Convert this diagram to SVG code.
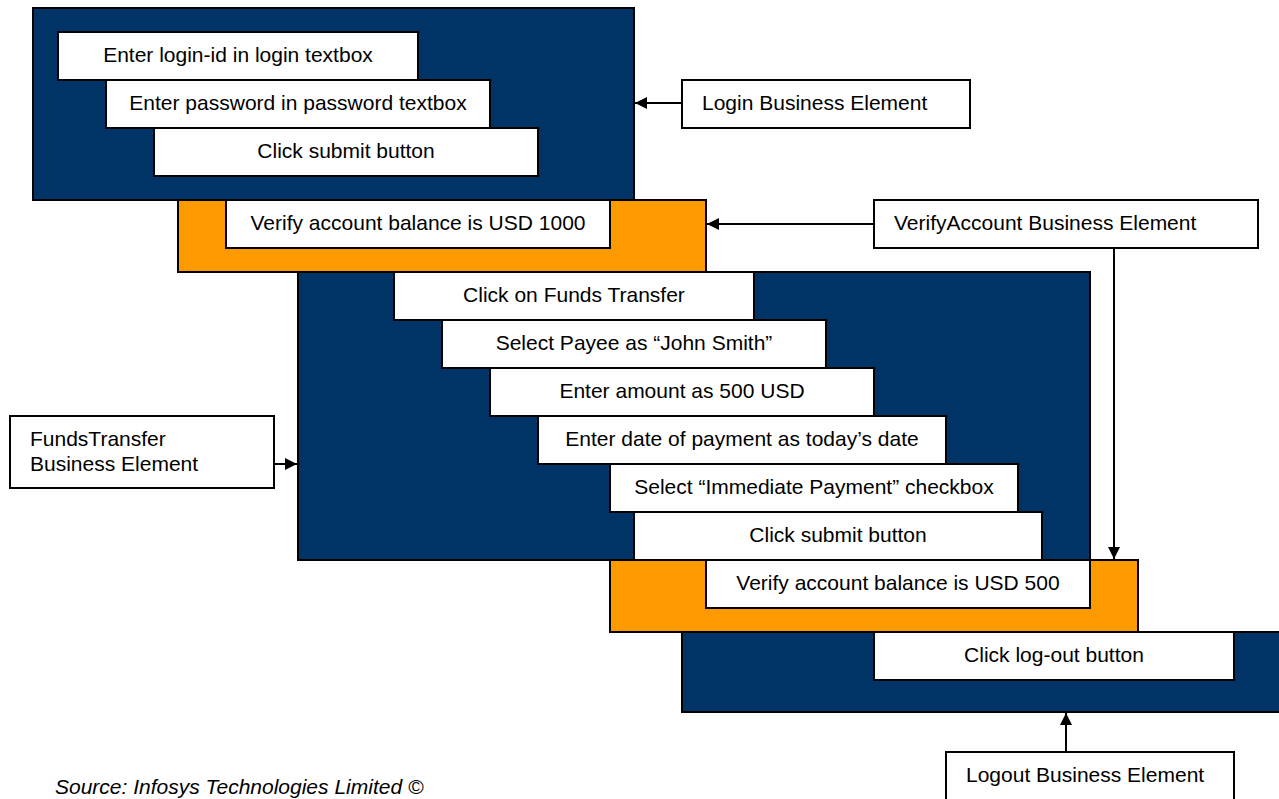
<svg xmlns="http://www.w3.org/2000/svg" width="1279" height="799" viewBox="0 0 1279 799">
<style>
.dark{fill:#003366;stroke:#000;stroke-width:2}
.orange{fill:#FF9900;stroke:#000;stroke-width:2}
.box{fill:#fff;stroke:#000;stroke-width:2}
.t{font-family:"Liberation Sans",Arial,sans-serif;font-size:21px;fill:#000;text-anchor:middle}
.tl{font-family:"Liberation Sans",Arial,sans-serif;font-size:21px;fill:#000}
.conn{stroke:#000;stroke-width:2;fill:none}
</style>
<defs>
<marker id="ah" viewBox="0 0 12 12" refX="12" refY="6" markerWidth="12" markerHeight="12" markerUnits="userSpaceOnUse" orient="auto">
<path d="M0,0 L12,6 L0,12 Z" fill="#000"/>
</marker>
</defs>
<rect width="1279" height="799" fill="#fff"/>
<g id="login-block">
<rect class="dark" x="33" y="8" width="601" height="192"/>
<rect class="box" x="58" y="32" width="360" height="48"/>
<text class="t" x="238" y="62">Enter login-id in login textbox</text>
<rect class="box" x="106" y="80" width="384" height="48"/>
<text class="t" x="298" y="110">Enter password in password textbox</text>
<rect class="box" x="154" y="128" width="384" height="48"/>
<text class="t" x="346" y="158">Click submit button</text>
</g>
<g id="verify-block-1">
<rect class="orange" x="178" y="200" width="528" height="72"/>
<rect class="box" x="226" y="200" width="384" height="48"/>
<text class="t" x="418" y="230">Verify account balance is USD 1000</text>
</g>
<g id="funds-block">
<rect class="dark" x="298" y="272" width="792" height="288"/>
<rect class="box" x="394" y="272" width="360" height="48"/>
<text class="t" x="574" y="302">Click on Funds Transfer</text>
<rect class="box" x="442" y="320" width="384" height="48"/>
<text class="t" x="634" y="350">Select Payee as “John Smith”</text>
<rect class="box" x="490" y="368" width="384" height="48"/>
<text class="t" x="682" y="398">Enter amount as 500 USD</text>
<rect class="box" x="538" y="416" width="408" height="48"/>
<text class="t" x="742" y="446">Enter date of payment as today’s date</text>
<rect class="box" x="610" y="464" width="408" height="48"/>
<text class="t" x="814" y="494">Select “Immediate Payment” checkbox</text>
<rect class="box" x="634" y="512" width="408" height="48"/>
<text class="t" x="838" y="542">Click submit button</text>
</g>
<g id="verify-block-2">
<rect class="orange" x="610" y="560" width="528" height="72"/>
<rect class="box" x="706" y="560" width="384" height="48"/>
<text class="t" x="898" y="590">Verify account balance is USD 500</text>
</g>
<g id="logout-block">
<rect class="dark" x="682" y="632" width="610" height="80"/>
<rect class="box" x="874" y="632" width="360" height="48"/>
<text class="t" x="1054" y="662">Click log-out button</text>
</g>
<g id="login-label">
<rect class="box" x="682" y="80" width="288" height="48"/>
<text class="tl" x="702" y="110">Login Business Element</text>
</g>
<g id="verifyaccount-label">
<rect class="box" x="874" y="200" width="384" height="48"/>
<text class="tl" x="894" y="230">VerifyAccount Business Element</text>
</g>
<g id="fundstransfer-label">
<rect class="box" x="10" y="416" width="264" height="72"/>
<text class="tl" x="30" y="446">FundsTransfer</text>
<text class="tl" x="30" y="471">Business Element</text>
</g>
<g id="logout-label">
<rect class="box" x="946" y="752" width="288" height="60"/>
<text class="tl" x="966" y="782">Logout Business Element</text>
</g>
<g id="connectors">
<line class="conn" x1="682" y1="103" x2="635" y2="103" marker-end="url(#ah)"/>
<line class="conn" x1="874" y1="224" x2="707" y2="224" marker-end="url(#ah)"/>
<line class="conn" x1="1114" y1="248" x2="1114" y2="559" marker-end="url(#ah)"/>
<line class="conn" x1="274" y1="464" x2="297" y2="464" marker-end="url(#ah)"/>
<line class="conn" x1="1066" y1="752" x2="1066" y2="713" marker-end="url(#ah)"/>
</g>
<text id="source" x="55" y="794" font-family="'Liberation Sans',Arial,sans-serif" font-size="21" font-style="italic" fill="#000">Source: Infosys Technologies Limited ©</text>
</svg>
